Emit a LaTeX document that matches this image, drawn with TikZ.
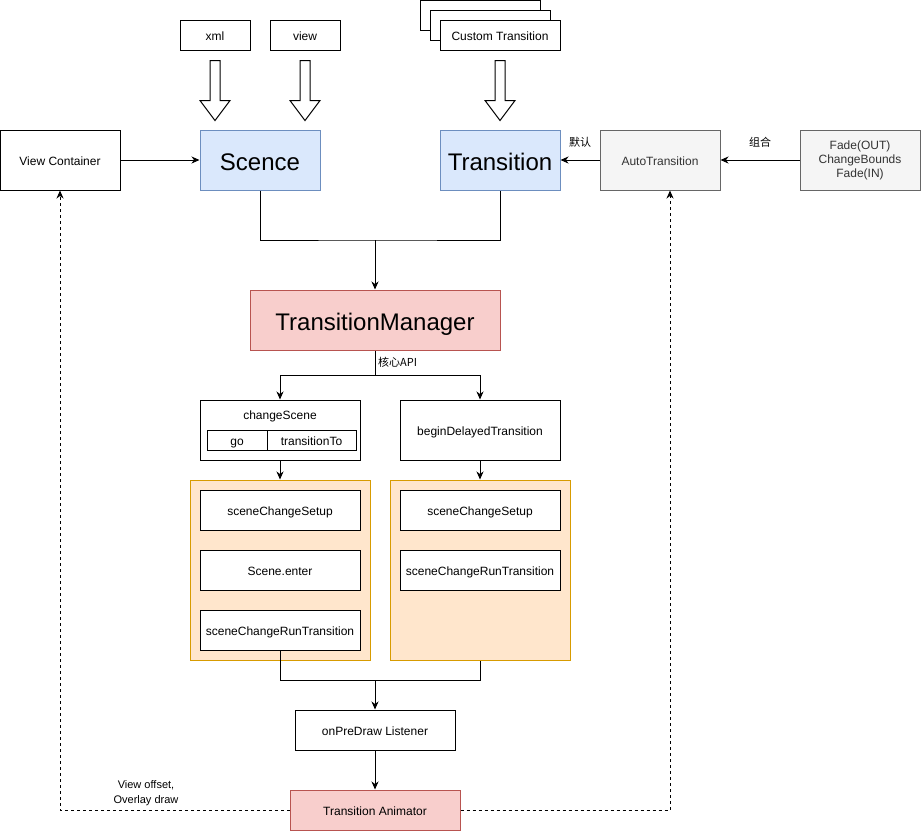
\documentclass[tikz,border=0pt]{standalone}
\usepackage{fontspec}
\setmainfont{Liberation Sans}
\newfontfamily\cjk{Noto Sans CJK SC}
\usetikzlibrary{arrows.meta,calc,positioning}
\definecolor{bluefill}{HTML}{DAE8FC}
\definecolor{bluestroke}{HTML}{6C8EBF}
\definecolor{redfill}{HTML}{F8CECC}
\definecolor{redstroke}{HTML}{B85450}
\definecolor{orfill}{HTML}{FFE6CC}
\definecolor{orstroke}{HTML}{D79B00}
\definecolor{grfill}{HTML}{F5F5F5}
\definecolor{grstroke}{HTML}{666666}
\definecolor{grtext}{HTML}{333333}
\newcommand\bkarrow[2]{%
  \draw[blockarr] ($(#1)+(-5,#2)$) -- ($(#1)+(5,#2)$) -- ($(#1)+(5,#2+40)$) -- ($(#1)+(15,#2+40)$) -- ($(#1)+(0,#2+60)$) -- ($(#1)+(-15,#2+40)$) -- ($(#1)+(-5,#2+40)$) -- cycle;}
\begin{document}
\begin{tikzpicture}[x=1pt,y=-1pt,
  basebox/.style={draw=black,fill=white,line width=1pt,inner sep=0pt,align=center,font=\fontsize{12}{14}\selectfont},
  box/.style={basebox,text height=11.5pt,text depth=0pt},
  bigtext/.style={font=\fontsize{24}{28}\selectfont,text height=21pt,text depth=0pt},
  bluebox/.style={box,draw=bluestroke,fill=bluefill,bigtext},
  redbox/.style={box,draw=redstroke,fill=redfill},
  graybox/.style={box,draw=grstroke,fill=grfill,text=grtext},
  orbox/.style={box,draw=orstroke,fill=orfill},
  conn/.style={line width=1pt,draw=black},
  arr/.style={conn,-{Stealth[length=8pt,width=7pt,inset=2.5pt]}},
  dasharr/.style={arr,dash pattern=on 3pt off 3pt},
  blockarr/.style={draw=black,fill=white,line width=1pt,line join=miter},
  lbl/.style={inner sep=0pt,font=\fontsize{11}{13}\selectfont}]
\useasboundingbox (0,0) rectangle (921,831);

% top inputs
\node[box,minimum width=70,minimum height=30] (xml) at (215,35) {xml};
\node[box,minimum width=70,minimum height=30] (view) at (305,35) {view};
\node[box,minimum width=120,minimum height=30] (ct3) at (480,15) {};
\node[box,minimum width=120,minimum height=30] (ct2) at (490,25) {};
\node[box,minimum width=120,minimum height=30] (ct1) at (500,35) {Custom Transition};

% block arrows
\bkarrow{xml.south}{10}
\bkarrow{view.south}{10}
\bkarrow{ct1.south}{10}

% main row
\node[box,minimum width=120,minimum height=60] (vc) at (60,160) {View Container};
\node[bluebox,minimum width=120,minimum height=60] (scence) at (260,160) {Scence};
\node[bluebox,minimum width=120,minimum height=60] (trans) at (500,160) {Transition};
\node[graybox,minimum width=120,minimum height=60] (auto) at (660,160) {AutoTransition};
\node[basebox,draw=grstroke,fill=grfill,text=grtext,minimum width=120,minimum height=60] (fade) at (860,160) {Fade(OUT)\\ChangeBounds\\Fade(IN)};

\draw[arr] (vc.east) -- (scence.west);
\draw[arr] (auto.west) -- (trans.east);
\draw[arr] (fade.west) -- (auto.east);
\node[lbl,anchor=west] (lmr) at (569,142) {\cjk 默认};
\node[lbl,anchor=west] (lzh) at (749,142) {\cjk 组合};

% manager
\node[redbox,minimum width=250,minimum height=60,bigtext] (tm) at (375,320) {TransitionManager};
\coordinate (j1) at (375,240);
\draw[conn] (scence.south) |- (j1) -| (trans.south);
\draw[arr] (j1) -- (tm.north);

\coordinate (j2) at (375,375);
\draw[conn] (tm.south) -- (j2);
\node[lbl,anchor=west] (api) at (378,362) {\cjk 核心API};

% API boxes
\node[box,minimum width=160,minimum height=60] (cs) at (280,430) {};
\node[lbl,font=\fontsize{12}{14}\selectfont,text height=11.5pt,text depth=0pt] (cst) at (280,414) {changeScene};
\node[box,minimum width=60,minimum height=20] (go) at (237,440) {go};
\node[box,minimum width=89,minimum height=20] (tt) at (311.5,440) {transitionTo};
\node[box,minimum width=160,minimum height=60] (bdt) at (480,430) {beginDelayedTransition};
\draw[arr] (j2) -| (cs.north);
\draw[arr] (j2) -| (bdt.north);

% containers
\node[orbox,minimum width=180,minimum height=180] (lc) at (280,570) {};
\node[orbox,minimum width=180,minimum height=180] (rc) at (480,570) {};
\node[box,minimum width=160,minimum height=40] (lsetup) at (280,510) {sceneChangeSetup};
\node[box,minimum width=160,minimum height=40] (lenter) at (280,570) {Scene.enter};
\node[box,minimum width=160,minimum height=40] (lrun) at (280,630) {sceneChangeRunTransition};
\node[box,minimum width=160,minimum height=40] (rsetup) at (480,510) {sceneChangeSetup};
\node[box,minimum width=160,minimum height=40] (rrun) at (480,570) {sceneChangeRunTransition};
\draw[arr] (cs.south) -- (lc.north);
\draw[arr] (bdt.south) -- (rc.north);

% bottom
\node[box,minimum width=160,minimum height=40] (opd) at (375,730) {onPreDraw Listener};
\node[redbox,minimum width=170,minimum height=40] (ta) at (375,810) {Transition Animator};
\coordinate (j3) at (375,680);
\draw[conn] (lrun.south) |- (j3) -| (rc.south);
\draw[arr] (j3) -- (opd.north);
\draw[arr] (opd.south) -- (ta.north);

\draw[dasharr] (ta.west) -| (vc.south);
\draw[dasharr] (ta.east) -| ($(auto.south)+(10,0)$);
\node[lbl,align=center,font=\fontsize{11}{15}\selectfont] (vo) at (146,793) {View offset,\\Overlay draw};
\end{tikzpicture}
\end{document}
